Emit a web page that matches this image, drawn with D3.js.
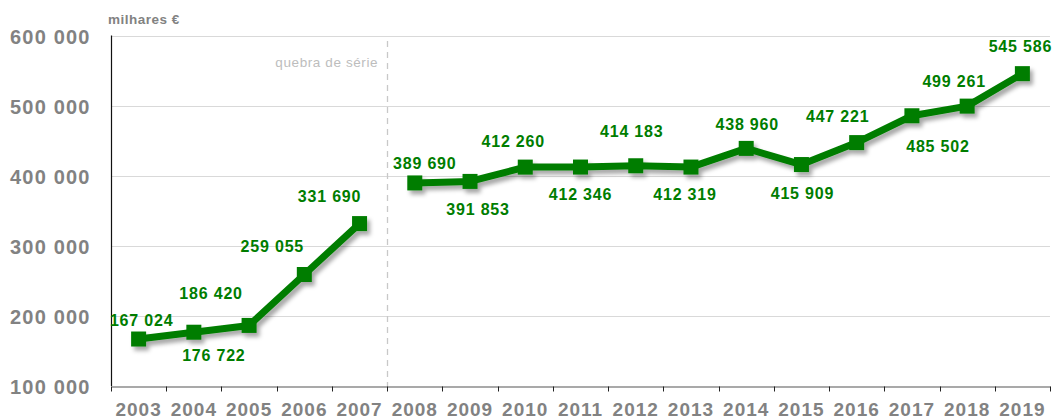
<!DOCTYPE html>
<html>
    <head>
        <meta charset="utf-8">
        <script src="https://d3js.org/d3.v7.min.js"></script>
        <style type="text/css">
            body {
                margin: 0;
                background: #fff;
            }
            svg text {
                font-family: "Liberation Sans", Arial, sans-serif;
            }
        </style>
    </head>
    <body>
        <svg id="chart" width="1056" height="420"></svg>
        <script type="text/javascript">

        // data
        const years = ["2003", "2004", "2005", "2006", "2007", "2008", "2009", "2010", "2011",
                       "2012", "2013", "2014", "2015", "2016", "2017", "2018", "2019"];
        const values = [167024, 176722, 186420, 259055, 331690, 389690, 391853, 412260, 412346,
                        414183, 412319, 438960, 415909, 447221, 485502, 499261, 545586];
        const yTicks = [100000, 200000, 300000, 400000, 500000, 600000];
        // series break between these two years
        const breakAfter = "2007";

        // label placement relative to each point (dx, dy)
        const labelOffsets = [
            [3, -19], [20, 23], [-38, -32], [-32, -28], [-30, -27],
            [10, -20], [8, 28], [-12, -26], [0, 27], [-4, -35],
            [-6, 27], [1, -24], [1, 29], [-19, -26], [26, 30],
            [-13, -25], [-2, -27]
        ];

        const GREEN = "#007d00";
        const GREY = "#828282";

        const margin = { left: 111, right: 6, top: 35.5, bottom: 34 };
        const W = 1056, H = 420;

        const svg = d3.select("#chart");

        const defs = svg.append("defs");
        const shadow = defs.append("filter")
            .attr("id", "shadow")
            .attr("x", "-20%").attr("y", "-20%")
            .attr("width", "140%").attr("height", "160%");
        shadow.append("feDropShadow")
            .attr("dx", 3).attr("dy", 4)
            .attr("stdDeviation", 2.2)
            .attr("flood-color", "#000")
            .attr("flood-opacity", 0.35);

        const x = d3.scaleBand()
            .domain(years)
            .range([margin.left, W - margin.right])
            .padding(0);

        const y = d3.scaleLinear()
            .domain([100000, 600000])
            .range([H - margin.bottom, margin.top]);

        const fmt = v => d3.format(",")(v).replace(/,/g, " ");

        // gridlines
        svg.append("g")
            .selectAll("line")
            .data(yTicks.slice(1))
            .join("line")
            .attr("x1", margin.left)
            .attr("x2", W - margin.right)
            .attr("y1", d => Math.round(y(d)) + 0.5)
            .attr("y2", d => Math.round(y(d)) + 0.5)
            .attr("stroke", "#d9d9d9")
            .attr("stroke-width", 1.2);

        // y labels
        svg.append("g")
            .selectAll("text")
            .data(yTicks)
            .join("text")
            .attr("x", 10)
            .attr("y", d => y(d) + 1)
            .attr("dy", "0.36em")
            .attr("fill", GREY)
            .attr("font-size", 20)
            .attr("font-weight", "bold")
            .attr("letter-spacing", 1.2)
            .text(fmt);

        // x axis
        const xAxis = d3.axisBottom(x)
            .tickSize(0)
            .tickPadding(0);
        const gx = svg.append("g")
            .attr("transform", `translate(0,${Math.round(y(100000)) + 0.5})`)
            .call(xAxis);
        gx.select(".domain").attr("stroke", "#555").attr("stroke-width", 1.2);
        gx.selectAll(".tick text")
            .attr("y", 23)
            .attr("dy", "0.36em")
            .attr("fill", GREY)
            .attr("font-size", 19)
            .attr("font-weight", "bold")
            .attr("letter-spacing", 1)
            .attr("font-family", "Liberation Sans, Arial, sans-serif");

        // ticks on category boundaries
        const bounds = years.map(d => x(d)).concat([x.range()[1]]);
        gx.append("g")
            .selectAll("line")
            .data(bounds)
            .join("line")
            .attr("x1", d => Math.round(d) + 0.5)
            .attr("x2", d => Math.round(d) + 0.5)
            .attr("y1", 0)
            .attr("y2", 5)
            .attr("stroke", "#222");

        // y axis line
        svg.append("line")
            .attr("x1", margin.left + 0.5)
            .attr("x2", margin.left + 0.5)
            .attr("y1", y(600000))
            .attr("y2", y(100000))
            .attr("stroke", "#111")
            .attr("stroke-width", 1.2);

        // series break
        const bx = x(breakAfter) + x.bandwidth();
        svg.append("line")
            .attr("x1", Math.round(bx) + 0.5)
            .attr("x2", Math.round(bx) + 0.5)
            .attr("y1", 41)
            .attr("y2", y(100000))
            .attr("stroke", "#c8c8c8")
            .attr("stroke-width", 1.3)
            .attr("stroke-dasharray", "6,5");

        svg.append("text")
            .attr("x", bx - 9)
            .attr("y", 67)
            .attr("text-anchor", "end")
            .attr("fill", "#bdbdbd")
            .attr("font-size", 13.5)
            .attr("letter-spacing", 0.6)
            .text("quebra de série");

        svg.append("text")
            .attr("x", 108)
            .attr("y", 24)
            .attr("fill", GREY)
            .attr("font-size", 13.5)
            .attr("font-weight", "bold")
            .attr("letter-spacing", 0.5)
            .text("milhares €");

        // series
        const pts = years.map((d, i) => ({ year: d, value: values[i], i: i }));
        const cut = years.indexOf(breakAfter) + 1;
        const segments = [pts.slice(0, cut), pts.slice(cut)];

        const line = d3.line()
            .x(d => x(d.year) + x.bandwidth() / 2)
            .y(d => y(d.value));

        const series = svg.append("g").attr("filter", "url(#shadow)");

        series.selectAll("path")
            .data(segments)
            .join("path")
            .attr("d", line)
            .attr("fill", "none")
            .attr("stroke", GREEN)
            .attr("stroke-width", 7)
            .attr("stroke-linejoin", "round");

        const S = 15;
        series.selectAll("rect")
            .data(pts)
            .join("rect")
            .attr("x", d => x(d.year) + x.bandwidth() / 2 - S / 2)
            .attr("y", d => y(d.value) - S / 2)
            .attr("width", S)
            .attr("height", S)
            .attr("fill", GREEN);

        // data labels
        svg.append("g")
            .selectAll("text")
            .data(pts)
            .join("text")
            .attr("x", d => x(d.year) + x.bandwidth() / 2 + labelOffsets[d.i][0])
            .attr("y", d => y(d.value) + labelOffsets[d.i][1])
            .attr("dy", "0.36em")
            .attr("text-anchor", "middle")
            .attr("fill", GREEN)
            .attr("font-size", 16)
            .attr("font-weight", "bold")
            .attr("letter-spacing", 0.8)
            .text(d => fmt(d.value));

        </script>
    </body>
</html>
